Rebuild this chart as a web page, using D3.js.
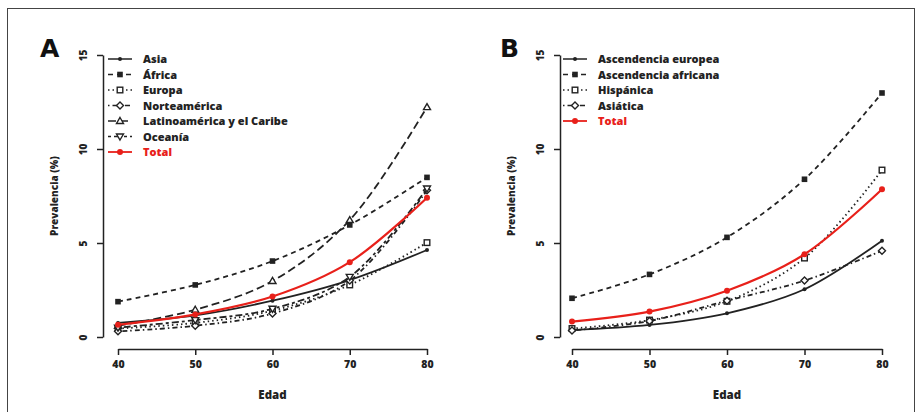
<!DOCTYPE html>
<html>
<head>
<meta charset="utf-8">
<script src="https://cdn.jsdelivr.net/npm/d3@7"></script>
<style>
  body { margin: 0; background: #fff; }
  svg { display: block; font-family: "Open Sans", sans-serif; }
</style>
</head>
<body>
<svg width="922" height="412"></svg>
<script>
// ages on x axis
const ages = [40, 50, 60, 70, 80];
const xTicks = [40, 50, 60, 70, 80];
const yTicks = [0, 5, 10, 15];

// panel A: by region
const asia = [0.75, 1.15, 1.93, 3.03, 4.63];
const africa = [1.88, 2.77, 4.04, 5.96, 8.49];
const europa = [0.45, 0.75, 1.4, 2.77, 5.02];
const norteamerica = [0.3, 0.6, 1.25, 3.0, 7.8];
const latinoamerica = [0.6, 1.45, 2.98, 6.22, 12.23];
const oceania = [0.5, 0.9, 1.5, 3.2, 7.9];
const totalA = [0.65, 1.2, 2.15, 3.98, 7.41];

// panel B: by ancestry
const europea = [0.37, 0.64, 1.26, 2.54, 5.12];
const africana = [2.06, 3.33, 5.3, 8.39, 12.98];
const hispanica = [0.45, 0.9, 1.9, 4.2, 8.88];
const asiatica = [0.35, 0.85, 1.93, 3.0, 4.59];
const totalB = [0.82, 1.35, 2.46, 4.4, 7.86];

const svg = d3.select('svg');

// outer frame
svg.append('rect')
  .attr('x', 7.5).attr('y', 8.5)
  .attr('width', 907).attr('height', 420)
  .attr('fill', 'none').attr('stroke', '#444').attr('stroke-width', 1);

const dashes = {
  solid: null,
  dashed: '5,4',
  dotted: '1.5,3',
  dotdash: '1.5,3,5,3',
  longdash: '8,4',
  twodash: '3,3,7,3'
};

function marker(g, shape, cx, cy, color) {
  const s = 2.8;
  if (shape === 'dot') {
    g.append('circle').attr('cx', cx).attr('cy', cy).attr('r', 2).attr('fill', color);
  } else if (shape === 'bigdot') {
    g.append('circle').attr('cx', cx).attr('cy', cy).attr('r', 3).attr('fill', color);
  } else if (shape === 'square') {
    g.append('rect').attr('x', cx - s).attr('y', cy - s).attr('width', 2 * s).attr('height', 2 * s).attr('fill', color);
  } else if (shape === 'osquare') {
    g.append('rect').attr('x', cx - s).attr('y', cy - s).attr('width', 2 * s).attr('height', 2 * s)
      .attr('fill', 'white').attr('stroke', color).attr('stroke-width', 1.4);
  } else if (shape === 'diamond') {
    g.append('path').attr('d', `M${cx},${cy - 3.5}L${cx + 3.5},${cy}L${cx},${cy + 3.5}L${cx - 3.5},${cy}Z`)
      .attr('fill', 'white').attr('stroke', color).attr('stroke-width', 1.4);
  } else if (shape === 'triangle') {
    g.append('path').attr('d', `M${cx},${cy - 3.5}L${cx + 3.5},${cy + 2.5}L${cx - 3.5},${cy + 2.5}Z`)
      .attr('fill', 'white').attr('stroke', color).attr('stroke-width', 1.4);
  } else if (shape === 'itriangle') {
    g.append('path').attr('d', `M${cx},${cy + 3.5}L${cx + 3.5},${cy - 2.5}L${cx - 3.5},${cy - 2.5}Z`)
      .attr('fill', 'white').attr('stroke', color).attr('stroke-width', 1.4);
  }
}

function panel(opts) {
  const x = d3.scaleLinear().domain([40, 80]).range([opts.x0, opts.x1]);
  const y = d3.scaleLinear().domain([0, 15]).range([337, 55]);
  const g = svg.append('g');

  // y axis, R style
  const yAxis = g.append('g')
    .attr('transform', `translate(${opts.yAxisX},0)`)
    .call(d3.axisLeft(y).tickValues(yTicks).tickSize(6).tickSizeOuter(0));
  yAxis.select('.domain').attr('stroke', '#222').attr('stroke-width', 1.5);
  yAxis.selectAll('.tick line').attr('stroke', '#222').attr('stroke-width', 1.5);
  yAxis.selectAll('.tick text')
    .attr('x', 0).attr('y', 0).attr('dy', 0)
    .attr('transform', 'translate(-16,0) rotate(-90)')
    .attr('text-anchor', 'middle')
    .attr('font-size', 10).attr('font-weight', 800).attr('fill', '#222')
    .attr('font-family', '"Open Sans", sans-serif');

  // x axis
  const xAxis = g.append('g')
    .attr('transform', 'translate(0,349)')
    .call(d3.axisBottom(x).tickValues(xTicks).tickSize(6).tickSizeOuter(0));
  xAxis.select('.domain').attr('stroke', '#222').attr('stroke-width', 1.5);
  xAxis.selectAll('.tick line').attr('stroke', '#222').attr('stroke-width', 1.5);
  xAxis.selectAll('.tick text')
    .attr('y', 19).attr('dy', 0)
    .attr('font-size', 10.5).attr('font-weight', 800).attr('fill', '#222')
    .attr('font-family', '"Open Sans", sans-serif');

  g.append('text')
    .attr('x', (opts.x0 + opts.x1) / 2).attr('y', 399)
    .attr('text-anchor', 'middle')
    .attr('font-size', 11.5).attr('font-weight', 800).attr('fill', '#222')
    .text('Edad');

  g.append('text')
    .attr('transform', `translate(${opts.ylabX},196) rotate(-90)`)
    .attr('text-anchor', 'middle')
    .attr('font-size', 10).attr('font-weight', 800).attr('fill', '#222')
    .text('Prevalencia (%)');

  g.append('text')
    .attr('x', opts.letterX).attr('y', 57)
    .attr('font-size', 25).attr('font-weight', 700).attr('fill', '#111')
    .attr('font-family', '"DejaVu Sans", sans-serif')
    .text(opts.letter);

  const line = d3.line()
    .x((d, i) => x(ages[i]))
    .y(d => y(d))
    .curve(d3.curveCatmullRom.alpha(0.5));

  opts.series.forEach(s => {
    const color = s.red ? '#e8201a' : '#222';
    g.append('path')
      .datum(s.values)
      .attr('d', line)
      .attr('fill', 'none')
      .attr('stroke', color)
      .attr('stroke-width', s.red ? 2.2 : 1.8)
      .attr('stroke-dasharray', dashes[s.lty]);
    s.values.forEach((v, i) => marker(g, s.shape, x(ages[i]), y(v), color));
  });

  // legend
  opts.series.forEach((s, i) => {
    const ly = 59 + i * 15.5;
    const color = s.red ? '#e8201a' : '#222';
    g.append('line')
      .attr('x1', opts.legX).attr('x2', opts.legX + 24)
      .attr('y1', ly).attr('y2', ly)
      .attr('stroke', color).attr('stroke-width', s.red ? 1.8 : 1.5)
      .attr('stroke-dasharray', dashes[s.lty]);
    marker(g, s.shape, opts.legX + 12, ly, color);
    g.append('text')
      .attr('x', opts.legX + 35).attr('y', ly + 4)
      .attr('font-size', 11).attr('font-weight', 800)
      .attr('fill', s.red ? '#e8201a' : '#222')
      .text(s.name);
  });
}

panel({
  letter: 'A', letterX: 40,
  x0: 118, x1: 427, yAxisX: 103, ylabX: 58, legX: 108,
  series: [
    { name: 'Asia', values: asia, lty: 'solid', shape: 'dot' },
    { name: 'África', values: africa, lty: 'dashed', shape: 'square' },
    { name: 'Europa', values: europa, lty: 'dotted', shape: 'osquare' },
    { name: 'Norteamérica', values: norteamerica, lty: 'dotdash', shape: 'diamond' },
    { name: 'Latinoamérica y el Caribe', values: latinoamerica, lty: 'longdash', shape: 'triangle' },
    { name: 'Oceanía', values: oceania, lty: 'twodash', shape: 'itriangle' },
    { name: 'Total', values: totalA, lty: 'solid', shape: 'bigdot', red: true }
  ]
});

panel({
  letter: 'B', letterX: 500,
  x0: 572, x1: 882, yAxisX: 560, ylabX: 515, legX: 563,
  series: [
    { name: 'Ascendencia europea', values: europea, lty: 'solid', shape: 'dot' },
    { name: 'Ascendencia africana', values: africana, lty: 'dashed', shape: 'square' },
    { name: 'Hispánica', values: hispanica, lty: 'dotted', shape: 'osquare' },
    { name: 'Asiática', values: asiatica, lty: 'dotdash', shape: 'diamond' },
    { name: 'Total', values: totalB, lty: 'solid', shape: 'bigdot', red: true }
  ]
});
</script>
</body>
</html>
